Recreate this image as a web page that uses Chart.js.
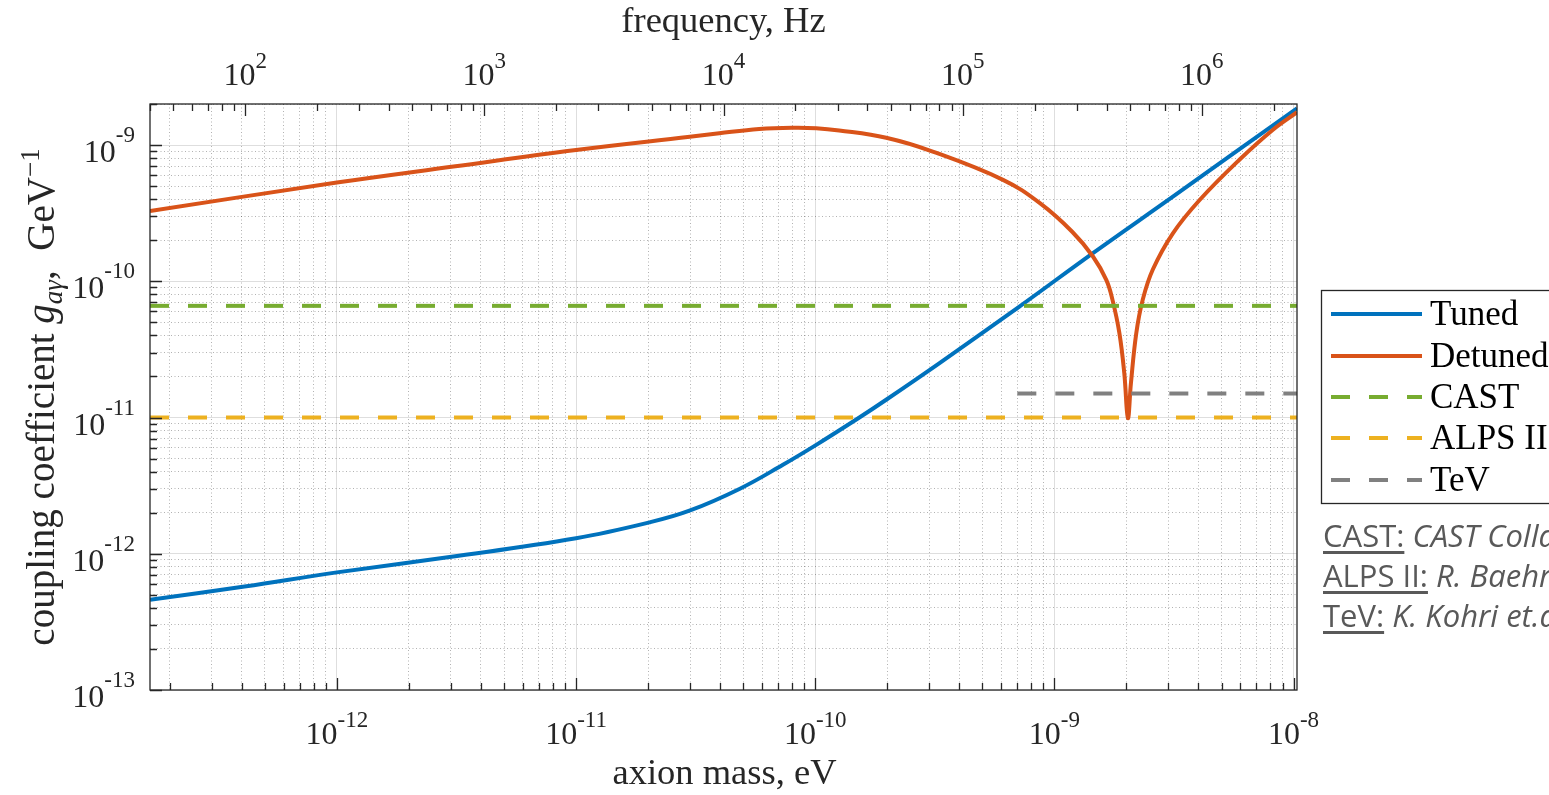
<!DOCTYPE html>
<html>
<head>
<meta charset="utf-8">
<title>Axion coupling sensitivity</title>
<script src="https://cdn.jsdelivr.net/npm/chart.js@4.4.0/dist/chart.umd.min.js"></script>
<style>
  html, body { margin: 0; padding: 0; background: #fff; overflow: hidden; }
  #wrap { position: relative; width: 1549px; height: 795px; overflow: hidden; }
  #myChart { display: block; }
  #refs {
    position: absolute; left: 1323px; top: 515px;
    font-family: 'Open Sans', sans-serif; font-size: 31px; line-height: 40px;
    color: #595959; white-space: nowrap;
  }
  #refs u { text-decoration-thickness: 3px; text-underline-offset: 4px; }
</style>
</head>
<body>
<div id="wrap">
  <canvas id="myChart" width="1549" height="795"></canvas>
  <div id="refs">
    <div><u>CAST:</u> <i>CAST Collaboration, Nature Phys. 13, 584 (2017)</i></div>
    <div><u>ALPS II:</u> <i>R. Baehre et al., JINST 8, T09001 (2013)</i></div>
    <div><u>TeV:</u> <i>K. Kohri et.al., Phys. Rev. D 96, 021302 (2017)</i></div>
  </div>
</div>
<script>
'use strict';

const ctx = document.getElementById('myChart');

// 1 eV of axion mass = 2.418e14 Hz
const EV_TO_HZ = 2.418e14;

let freqMin = 40;
let freqMax = 2.5e6;
let massMin = freqMin / EV_TO_HZ;
let massMax = freqMax / EV_TO_HZ;
let gMin = 1e-13;
let gMax = 2e-9;

// Tuned curve (axion mass eV, coupling GeV^-1)
let tunedMass = [massMin, 4.11e-13, 1.0e-12, 2.96e-12, 1.0e-11, 2.03e-11, 2.98e-11, 4.82e-11,
  7.33e-11, 1.01e-10, 1.53e-10, 1.98e-10, 3.31e-10, 7.14e-10, 1.45e-9, 3.13e-9, massMax];
let tunedG = [4.60e-13, 5.75e-13, 7.30e-13, 9.46e-13, 1.30e-12, 1.70e-12, 2.07e-12, 2.99e-12,
  4.5e-12, 6.3e-12, 1.0e-11, 1.35e-11, 2.51e-11, 6.52e-11, 1.61e-10, 4.18e-10, 1.86e-9];

// Detuned curve
let detunedMass = [massMin, 1.0e-12, 3.07e-12, 1.0e-11, 2.99e-11, 3.97e-11, 5.83e-11, 8.0e-11,
  1.01e-10, 1.26e-10, 1.98e-10, 3.1e-10, 6.1e-10, 8.7e-10, 1.19e-9, 1.45e-9, 1.65e-9, 1.75e-9,
  1.87e-9, 1.96e-9, 2.03e-9, 2.09e-9, 2.20e-9, 2.34e-9, 2.58e-9, 3.13e-9, 4.05e-9, 5.94e-9,
  8.18e-9, massMax];
let detunedG = [3.28e-10, 5.30e-10, 6.95e-10, 9.2e-10, 1.15e-9, 1.22e-9, 1.31e-9, 1.34e-9,
  1.33e-9, 1.28e-9, 1.13e-9, 8.95e-10, 5.55e-10, 3.74e-10, 2.3e-10, 1.52e-10, 1.02e-10, 7.3e-11,
  4.16e-11, 2.12e-11, 9.9e-12, 1.79e-11, 4.16e-11, 7.3e-11, 1.22e-10, 2.25e-10, 3.95e-10, 7.8e-10,
  1.29e-9, 1.74e-9];

// existing limits
let castLimit = 6.6e-11;
let alpsLimit = 1.0e-11;
let tevLimit = 1.5e-11;
let tevStartMass = 7.0e-10;

let legendLabels = ['Tuned', 'Detuned', 'CAST', 'ALPS II', 'TeV'];
let legendColors = ['#0072BD', '#D95319', '#77AC30', '#EDB120', '#808080'];
let legendDashed = [false, false, true, true, true];

const SERIF = '"Liberation Serif", "Times New Roman", serif';
const DASH = [19, 19];

function logTicks(min, max) {
  let ticks = [];
  for (let e = Math.floor(Math.log10(min)); e <= Math.ceil(Math.log10(max)); e++) {
    for (let s = 1; s <= 9; s++) {
      let v = s * Math.pow(10, e);
      if (v >= min * 0.9999 && v <= max * 1.0001) {
        ticks.push({ value: v, major: s === 1 });
      }
    }
  }
  return ticks;
}

function toPoints(xs, ys) {
  let pts = [];
  for (let i = 0; i < xs.length; i++) {
    pts.push({ x: xs[i], y: ys[i] });
  }
  return pts;
}

function gridOpts(show) {
  return {
    display: show,
    drawTicks: false,
    color: (c) => (c.tick && c.tick.major ? 'rgba(0,0,0,0.13)' : 'rgba(0,0,0,0.3)'),
    lineWidth: 1,
  };
}

function borderOpts() {
  return {
    display: false,
    dash: (c) => (c.tick && c.tick.major ? [] : [1, 2.5]),
  };
}

// "10" with a raised exponent, drawn at a tick position
function drawPower(c, x, baseY, supY, exp, align) {
  let base = '10';
  let sup = String(exp);
  c.font = '32px ' + SERIF;
  let wb = c.measureText(base).width;
  c.font = '23px ' + SERIF;
  let ws = c.measureText(sup).width;
  let start = align === 'right' ? x - wb - ws : x - (wb + ws) / 2;
  c.textAlign = 'left';
  c.textBaseline = 'alphabetic';
  c.font = '32px ' + SERIF;
  c.fillText(base, start, baseY);
  c.font = '23px ' + SERIF;
  c.fillText(sup, start + wb, supY);
}

const decorations = {
  id: 'decorations',
  afterDraw(chart) {
    let c = chart.ctx;
    let area = chart.chartArea;
    let xs = chart.scales.x;
    let ys = chart.scales.y;
    let fs = chart.scales.x2;

    c.save();
    c.strokeStyle = '#262626';
    c.fillStyle = '#262626';
    c.lineWidth = 1.3;
    c.setLineDash([]);

    // inward tick marks
    c.beginPath();
    xs.ticks.forEach((t) => {
      let px = Math.round(xs.getPixelForValue(t.value)) + 0.5;
      let len = t.major ? 12 : 7;
      c.moveTo(px, area.bottom);
      c.lineTo(px, area.bottom - len);
    });
    fs.ticks.forEach((t) => {
      let px = Math.round(fs.getPixelForValue(t.value)) + 0.5;
      let len = t.major ? 12 : 7;
      c.moveTo(px, area.top);
      c.lineTo(px, area.top + len);
    });
    ys.ticks.forEach((t) => {
      let py = Math.round(ys.getPixelForValue(t.value)) + 0.5;
      let len = t.major ? 12 : 7;
      c.moveTo(area.left, py);
      c.lineTo(area.left + len, py);
    });
    c.stroke();

    // axes box
    c.strokeRect(area.left, area.top, area.right - area.left, area.bottom - area.top);

    // tick labels
    xs.ticks.forEach((t) => {
      if (!t.major) return;
      let px = xs.getPixelForValue(t.value);
      drawPower(c, px, 744, 727, Math.round(Math.log10(t.value)), 'center');
    });
    fs.ticks.forEach((t) => {
      if (!t.major) return;
      let px = fs.getPixelForValue(t.value);
      drawPower(c, px, 85, 68, Math.round(Math.log10(t.value)), 'center');
    });
    ys.ticks.forEach((t) => {
      if (!t.major) return;
      let py = ys.getPixelForValue(t.value);
      drawPower(c, 135, py + 17, py - 3, Math.round(Math.log10(t.value)), 'right');
    });

    // axis titles
    let midX = (area.left + area.right) / 2;
    c.textAlign = 'center';
    c.textBaseline = 'alphabetic';
    c.font = '36.5px ' + SERIF;
    c.fillText('axion mass, eV', midX + 1, 784);
    c.fillText('frequency, Hz', midX, 32);

    c.save();
    c.translate(54, (area.top + area.bottom) / 2);
    c.rotate(-Math.PI / 2);
    let parts = [
      { t: 'coupling coefficient ', f: '39px ' + SERIF, dy: 0 },
      { t: 'g', f: 'italic 39px ' + SERIF, dy: 0 },
      { t: 'a\u03B3', f: 'italic 27px ' + SERIF, dy: 8 },
      { t: ',  GeV', f: '39px ' + SERIF, dy: 0 },
      { t: '\u22121', f: '27px ' + SERIF, dy: -15 },
    ];
    let total = 0;
    parts.forEach((p) => {
      c.font = p.f;
      p.w = c.measureText(p.t).width;
      total += p.w;
    });
    let tx = -total / 2;
    c.textAlign = 'left';
    parts.forEach((p) => {
      c.font = p.f;
      c.fillText(p.t, tx, p.dy);
      tx += p.w;
    });
    c.restore();

    // legend box
    c.fillStyle = '#ffffff';
    c.fillRect(1321.5, 290.5, 300, 213);
    c.strokeStyle = '#262626';
    c.lineWidth = 1.3;
    c.strokeRect(1321.5, 290.5, 300, 213);
    let rowY = [314, 356, 397, 438, 480];
    for (let i = 0; i < legendLabels.length; i++) {
      c.beginPath();
      c.strokeStyle = legendColors[i];
      c.lineWidth = 4;
      c.setLineDash(legendDashed[i] ? DASH : []);
      c.moveTo(1331, rowY[i]);
      c.lineTo(1422, rowY[i]);
      c.stroke();
      c.setLineDash([]);
      c.fillStyle = '#000000';
      c.font = '35px ' + SERIF;
      c.textAlign = 'left';
      c.fillText(legendLabels[i], 1430, rowY[i] + 11);
    }
    c.restore();
  },
};

new Chart(ctx, {
  type: 'line',
  data: {
    datasets: [{
      label: legendLabels[0],
      data: toPoints(tunedMass, tunedG),
      borderColor: legendColors[0],
      borderWidth: 4,
      pointRadius: 0,
      tension: 0.4,
      order: 4,
    }, {
      label: legendLabels[1],
      data: toPoints(detunedMass, detunedG),
      borderColor: legendColors[1],
      borderWidth: 4,
      pointRadius: 0,
      tension: 0.4,
      order: 3,
    }, {
      label: legendLabels[2],
      data: toPoints([massMin, massMax], [castLimit, castLimit]),
      borderColor: legendColors[2],
      borderWidth: 4,
      borderDash: DASH,
      pointRadius: 0,
      order: 2,
    }, {
      label: legendLabels[3],
      data: toPoints([massMin, massMax], [alpsLimit, alpsLimit]),
      borderColor: legendColors[3],
      borderWidth: 4,
      borderDash: DASH,
      pointRadius: 0,
      order: 1,
    }, {
      label: legendLabels[4],
      data: toPoints([tevStartMass, massMax], [tevLimit, tevLimit]),
      borderColor: legendColors[4],
      borderWidth: 4,
      borderDash: DASH,
      pointRadius: 0,
      order: 0,
    }]
  },
  options: {
    responsive: false,
    animation: false,
    events: [],
    layout: { padding: { left: 0, right: 252, top: 0, bottom: 0 } },
    plugins: {
      legend: { display: false },
      tooltip: { enabled: false },
    },
    scales: {
      x: {
        type: 'logarithmic',
        position: 'bottom',
        min: massMin,
        max: massMax,
        grid: gridOpts(true),
        border: borderOpts(),
        ticks: { display: false },
        afterBuildTicks: (axis) => { axis.ticks = logTicks(axis.min, axis.max); },
        afterFit: (axis) => { axis.height = 105; },
      },
      x2: {
        type: 'logarithmic',
        position: 'top',
        min: freqMin,
        max: freqMax,
        grid: { display: false, drawTicks: false },
        border: { display: false },
        ticks: { display: false },
        afterBuildTicks: (axis) => { axis.ticks = logTicks(axis.min, axis.max); },
        afterFit: (axis) => { axis.height = 104; },
      },
      y: {
        type: 'logarithmic',
        position: 'left',
        min: gMin,
        max: gMax,
        grid: gridOpts(true),
        border: borderOpts(),
        ticks: { display: false },
        afterBuildTicks: (axis) => { axis.ticks = logTicks(axis.min, axis.max); },
        afterFit: (axis) => { axis.width = 150; },
      },
    },
  },
  plugins: [decorations],
});
</script>
</body>
</html>
